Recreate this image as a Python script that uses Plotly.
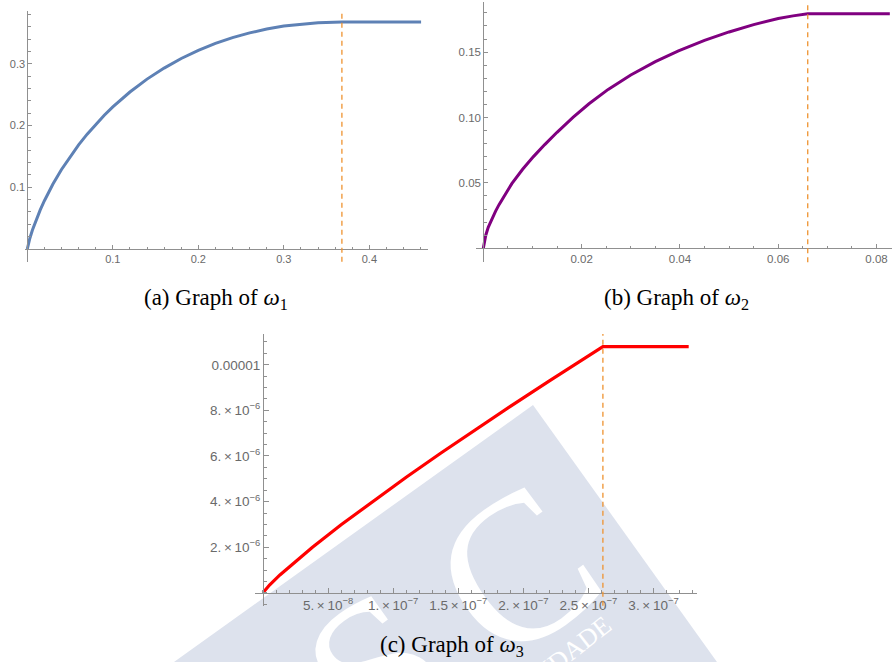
import plotly.graph_objects as go

W, H = 893, 662

# ---------------- data ----------------
# (a) omega_1
w1_x = [0, 0.001, 0.003, 0.006, 0.01, 0.015, 0.02, 0.03, 0.04, 0.05, 0.06, 0.07,
        0.08, 0.09, 0.10, 0.12, 0.14, 0.16, 0.18, 0.20, 0.22, 0.24, 0.26, 0.28,
        0.30, 0.32, 0.34, 0.3679, 0.4605]
w1_y = [0, 0.0069, 0.0174, 0.0307, 0.0461, 0.0630, 0.0782, 0.1052, 0.1288, 0.1498,
        0.1688, 0.1861, 0.2021, 0.2167, 0.2303, 0.2544, 0.2753, 0.2932, 0.3087,
        0.3219, 0.3331, 0.3425, 0.3502, 0.3564, 0.3612, 0.3646, 0.3668, 0.3679, 0.3679]
w1_cut = 0.3679
a_xticks = [0.1, 0.2, 0.3, 0.4]
a_xtext = ["0.1", "0.2", "0.3", "0.4"]
a_yticks = [0.1, 0.2, 0.3]
a_ytext = ["0.1", "0.2", "0.3"]

# (b) omega_2
w2_x = [0, 0.0005, 0.001, 0.0017, 0.0025, 0.0032, 0.0045, 0.0058, 0.008, 0.0102,
        0.0125, 0.015, 0.0183, 0.0215, 0.0254, 0.030, 0.035, 0.0397, 0.045, 0.050,
        0.055, 0.060, 0.063, 0.066, 0.0827]
w2_y = [0, 0.0100, 0.0160, 0.0220, 0.0284, 0.0334, 0.0419, 0.0494, 0.0604, 0.0701,
        0.0793, 0.0887, 0.1003, 0.1105, 0.1215, 0.1325, 0.1427, 0.1510, 0.1590,
        0.1654, 0.1710, 0.1757, 0.1777, 0.1793, 0.1793]
w2_cut = 0.066
b_xticks = [0.02, 0.04, 0.06, 0.08]
b_xtext = ["0.02", "0.04", "0.06", "0.08"]
b_yticks = [0.05, 0.10, 0.15]
b_ytext = ["0.05", "0.10", "0.15"]

# (c) omega_3
w3_x = [0, 5e-9, 1.3e-8, 2.4e-8, 3.8e-8, 6e-8, 8.7e-8, 1.1e-7, 1.37e-7, 1.6e-7,
        1.9e-7, 2.2e-7, 2.44e-7, 2.611e-7, 3.27e-7]
w3_y = [0, 3.39e-7, 7.82e-7, 1.338e-6, 2.0e-6, 2.983e-6, 4.129e-6, 5.069e-6,
        6.143e-6, 7.037e-6, 8.178e-6, 9.297e-6, 1.0179e-5, 1.080e-5, 1.080e-5]
w3_cut = 2.611e-7
c_xticks = [5e-8, 1e-7, 1.5e-7, 2e-7, 2.5e-7, 3e-7]
c_xtext = ["5.\u2009×\u200910<sup>−8</sup>", "1.\u2009×\u200910<sup>−7</sup>",
           "1.5\u2009×\u200910<sup>−7</sup>", "2.\u2009×\u200910<sup>−7</sup>",
           "2.5\u2009×\u200910<sup>−7</sup>", "3.\u2009×\u200910<sup>−7</sup>"]
c_yticks = [2e-6, 4e-6, 6e-6, 8e-6, 1e-5]
c_ytext = ["2.\u2009×\u200910<sup>−6</sup>", "4.\u2009×\u200910<sup>−6</sup>",
           "6.\u2009×\u200910<sup>−6</sup>", "8.\u2009×\u200910<sup>−6</sup>", "0.00001"]

captions = ["(a) Graph of <i>ω</i><sub>1</sub>",
            "(b) Graph of <i>ω</i><sub>2</sub>",
            "(c) Graph of <i>ω</i><sub>3</sub>"]

# ---------------- styling ----------------
AX = "#909090"
LBL = "#6a6a6a"
ORANGE = "#EE922E"


def px(x):
    return x / W


def py(y):
    return 1 - y / H


def axis(domain, rng, pos, tickvals, ticktext, minor_dtick, size, ticklen=4):
    return dict(
        domain=domain, range=rng, anchor="free", position=pos,
        showline=True, linecolor=AX, linewidth=1,
        ticks="inside", ticklen=ticklen, tickwidth=1, tickcolor=AX,
        tickmode="array", tickvals=tickvals, ticktext=ticktext,
        tickfont=dict(family="Liberation Sans, Arial, sans-serif", size=size, color=LBL),
        minor=dict(dtick=minor_dtick, tick0=0, ticks="inside", ticklen=2.5,
                   tickwidth=1, tickcolor=AX, showgrid=False),
        showgrid=False, zeroline=False, fixedrange=True,
    )


fig = go.Figure()

fig.add_trace(go.Scatter(x=w1_x, y=w1_y, mode="lines", xaxis="x", yaxis="y",
                         line=dict(color="#5E81B5", width=3),
                         cliponaxis=False, showlegend=False, hoverinfo="skip"))
fig.add_trace(go.Scatter(x=w2_x, y=w2_y, mode="lines", xaxis="x2", yaxis="y2",
                         line=dict(color="#800080", width=3),
                         cliponaxis=False, showlegend=False, hoverinfo="skip"))
fig.add_trace(go.Scatter(x=w3_x, y=w3_y, mode="lines", xaxis="x3", yaxis="y3",
                         line=dict(color="#FF0000", width=3.2),
                         cliponaxis=False, showlegend=False, hoverinfo="skip"))

fig.update_layout(
    width=W, height=H,
    margin=dict(l=0, r=0, t=0, b=0),
    paper_bgcolor="white", plot_bgcolor="rgba(0,0,0,0)",
    showlegend=False,
    xaxis=axis([px(25), px(427.5)], [-0.0027, 0.468], py(249),
               a_xticks, a_xtext, 0.02, 11),
    yaxis=axis([py(261.65), py(10.8)], [-0.0205, 0.386], px(27.3),
               a_yticks, a_ytext, 0.02, 11),
    xaxis2=axis([px(475.6), px(891.8)], [-0.00157, 0.0831], py(248.3),
                b_xticks, b_xtext, 0.005, 11.5),
    yaxis2=axis([py(262.3), py(2)], [-0.0107, 0.1883], px(483.3),
                b_yticks, b_ytext, 0.01, 11.5),
    xaxis3=axis([px(255), px(696.5)], [-6.14e-9, 3.33e-7], py(592.8),
                c_xticks, c_xtext, 1e-8, 13.5, ticklen=5),
    yaxis3=axis([py(605.8), py(334)], [-5.7e-7, 1.135e-5], px(263),
                c_yticks, c_ytext, 5e-7, 13.5, ticklen=5),
)

# dashed cut-off lines
for xr, yr, cut in [("x", "y", w1_cut), ("x2", "y2", w2_cut), ("x3", "y3", w3_cut)]:
    fig.add_shape(type="line", xref=xr, yref=yr + " domain", x0=cut, x1=cut, y0=0, y1=1,
                  line=dict(color=ORANGE, width=1.3, dash="5px,4px"))

# watermark (light rotated logo block behind panel c)
T = (533, 405)
L = (45.2, 754.2)
R = (882.2, 892.8)
B = (394.4, 1242.0)
path = "M {} {} L {} {} L {} {} L {} {} Z".format(
    px(T[0]), py(T[1]), px(R[0]), py(R[1]), px(B[0]), py(B[1]), px(L[0]), py(L[1]))
fig.add_shape(type="path", xref="paper", yref="paper", path=path,
              fillcolor="#dde2ed", line=dict(width=0), layer="below")
fig.add_shape(type="rect", xref="paper", yref="paper",
              x0=px(349), x1=px(369), y0=py(665), y1=py(645),
              line=dict(width=0), fillcolor="rgba(0,0,0,0)", layer="below",
              label=dict(text="U\u2009S\u2009C", textangle=-35.6, textposition="middle center",
                         font=dict(family="Liberation Serif", size=210, color="white")))
fig.add_shape(type="rect", xref="paper", yref="paper",
              x0=px(520), x1=px(540), y0=py(689), y1=py(669),
              line=dict(width=0), fillcolor="rgba(0,0,0,0)", layer="below",
              label=dict(text="UNIVERSIDADE", textangle=-38, textposition="middle center",
                         font=dict(family="Liberation Serif", size=26, color="white")))

# captions
cap_pos = [(215.8, 299), (676, 299), (452, 646)]
for text, (cx, cy) in zip(captions, cap_pos):
    fig.add_annotation(text=text, x=px(cx), y=py(cy), xref="paper", yref="paper",
                       xanchor="center", yanchor="middle", showarrow=False,
                       font=dict(family="Liberation Serif, Times New Roman, serif",
                                 size=23, color="black"))

fig.write_html("out.html")
